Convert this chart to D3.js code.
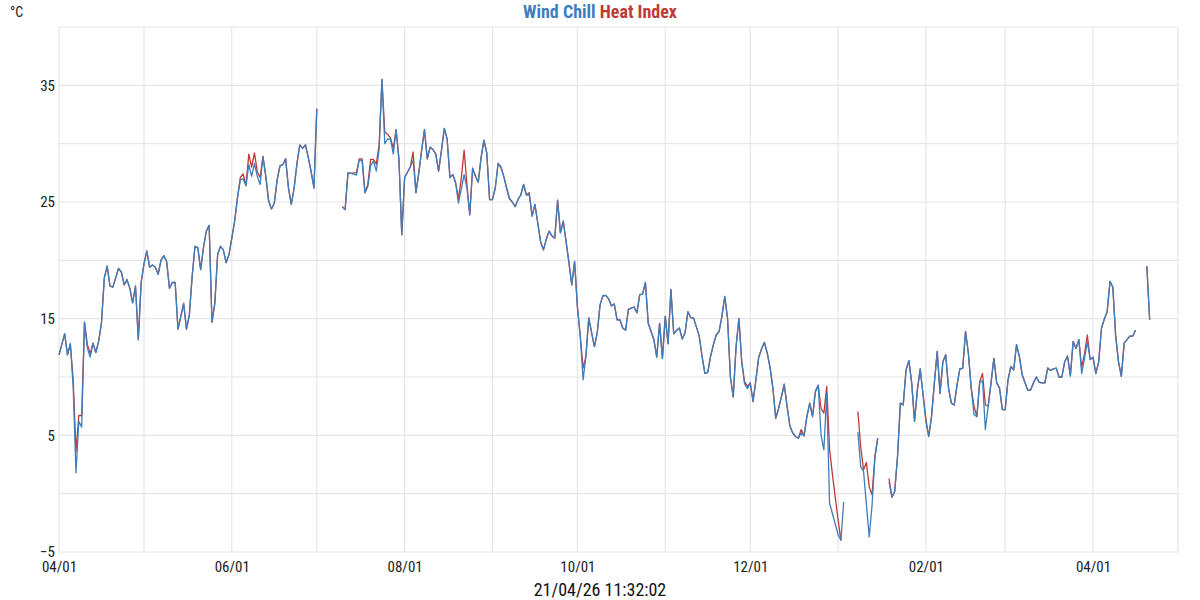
<!DOCTYPE html>
<html><head><meta charset="utf-8">
<script src="https://cdn.jsdelivr.net/npm/d3@7"></script>
<style>
html,body{margin:0;padding:0;background:#fff;}
svg{display:block;font-family:"Roboto Condensed","Liberation Sans Narrow",Roboto,sans-serif;}
</style></head>
<body>
<svg id="chart" width="1200" height="600"></svg>
<script>
// ---- data (daily, starting 2025-04-01) ----
const startDate = "2025-04-01";
const endDate = "2026-05-01";
const yTicks = [35, 25, 15, 5, -5];
const xTickLabels = ["04/01", "06/01", "08/01", "10/01", "12/01", "02/01", "04/01"];
const title = ["Wind Chill", "Heat Index"];
const unitLabel = "°C";
const timestamp = "21/04/26 11:32:02";

const windChill = [
11.9,12.8,13.7,11.9,12.85,9.2,1.8,6.2,5.7,14.7,
12.5,11.7,12.9,12.1,13.05,14.65,18.5,19.5,17.8,17.7,
18.5,19.3,19.0,17.9,18.35,17.6,16.35,17.8,13.2,18.1,
19.7,20.8,19.4,19.6,19.4,18.8,20.0,20.4,19.9,17.6,
18.1,18.1,14.1,15.2,16.3,14.1,15.3,18.6,21.2,21.1,
19.2,21.1,22.5,23.0,14.7,16.3,20.5,21.2,20.9,19.8,
20.5,21.9,23.35,25.35,26.9,27.0,26.4,28.2,27.2,28.3,
27.2,26.5,28.9,27.2,25.1,24.4,24.9,26.9,28.1,28.2,
28.7,26.2,24.8,26.2,28.3,29.9,29.6,29.9,28.8,27.6,
26.2,33.0,null,null,null,null,null,null,null,null,
24.6,24.35,27.5,27.45,27.4,27.3,28.65,28.5,25.8,26.3,
28.1,28.5,27.65,29.5,35.5,30.0,30.4,30.4,29.1,31.2,
28.65,22.2,27.1,27.55,28.0,28.6,25.8,27.5,29.4,31.2,
28.7,29.7,29.5,29.1,27.65,29.4,31.3,30.4,27.1,27.35,
26.65,24.9,26.1,27.35,26.2,23.9,27.9,27.2,26.7,28.8,
30.3,29.2,25.2,25.2,26.2,28.3,28.0,27.2,26.2,25.3,
25.0,24.6,25.2,25.6,26.5,25.6,25.6,23.8,24.8,23.2,
21.6,20.9,21.8,22.5,22.1,21.9,25.15,22.35,23.35,21.6,
19.8,17.9,19.9,16.0,13.5,9.76,11.76,15.06,13.8,12.6,
13.8,16.2,16.97,17.0,16.7,16.1,16.26,14.9,14.9,14.2,
14.0,15.8,15.9,16.0,15.5,17.06,17.1,18.1,14.6,13.9,
13.2,11.7,14.6,11.6,15.2,12.85,17.5,13.7,14.0,14.2,
13.25,13.8,15.6,15.1,15.05,14.3,13.5,11.76,10.3,10.4,
11.76,12.77,13.6,13.9,15.2,16.9,15.0,10.0,8.3,12.6,
15.0,11.3,9.4,9.0,9.5,7.9,9.76,11.7,12.4,12.97,
12.06,10.8,9.05,6.45,7.3,8.3,9.3,7.5,5.8,5.2,
4.9,4.75,5.2,4.95,6.6,7.76,6.6,8.7,9.3,5.0,
3.76,8.6,-0.8,-1.7,-2.6,-3.5,-4.0,-0.7,null,null,
null,null,5.27,2.3,1.9,-0.9,-3.7,-1.0,3.0,4.76,
null,null,null,1.0,-0.3,0.18,3.2,7.76,7.6,10.6,
11.4,9.5,6.2,8.9,10.7,8.5,6.2,4.9,6.6,9.5,
12.2,8.6,11.3,11.9,9.05,7.76,7.6,9.3,10.7,10.75,
13.9,12.06,9.05,6.76,6.6,9.5,9.7,5.5,7.5,9.5,
11.6,9.5,9.05,7.2,7.2,9.76,10.9,10.6,12.77,11.76,
10.2,9.5,8.85,8.9,9.5,10.0,9.55,9.5,9.5,10.77,
10.56,10.7,10.77,10.0,10.0,11.3,11.8,10.1,13.05,12.45,
13.2,10.3,11.6,13.0,11.5,11.7,10.3,11.3,14.2,14.97,
15.6,18.2,17.7,13.5,11.3,10.05,12.9,13.2,13.5,13.5,
14.0,null,null,null,19.5,14.9
];

const heatIndex = [
11.9,12.8,13.7,11.9,12.85,9.8,3.6,6.7,6.7,14.7,
12.8,12.0,12.9,12.1,13.05,14.65,18.5,19.5,17.8,17.7,
18.5,19.3,19.0,17.9,18.35,17.6,16.35,17.8,13.2,18.1,
19.7,20.8,19.4,19.6,19.4,18.8,20.0,20.4,19.9,17.6,
18.1,18.1,14.1,15.2,16.3,14.1,15.3,18.6,21.2,21.1,
19.2,21.1,22.5,23.0,14.7,16.3,20.5,21.2,20.9,19.8,
20.5,21.9,23.35,25.35,27.1,27.4,26.4,29.1,28.0,29.2,
27.6,27.1,28.9,27.2,25.1,24.4,24.9,26.9,28.1,28.2,
28.7,26.2,24.8,26.2,28.3,29.9,29.6,29.9,28.8,27.6,
26.2,33.0,null,null,null,null,null,null,null,null,
24.6,24.35,27.5,27.45,27.5,27.5,28.7,28.7,25.8,26.5,
28.65,28.65,28.25,29.9,35.5,31.0,30.8,30.5,29.6,31.2,
28.65,22.2,27.1,27.55,28.0,29.3,25.8,27.5,29.4,31.2,
28.7,29.7,29.5,29.1,27.65,29.4,31.3,30.4,27.1,27.35,
26.65,25.3,27.0,29.45,26.5,23.9,27.9,27.2,26.7,28.8,
30.3,29.2,25.2,25.2,26.2,28.3,28.0,27.2,26.2,25.3,
25.0,24.6,25.2,25.6,26.5,25.6,25.8,23.8,24.8,23.2,
21.6,20.9,21.8,22.5,22.1,21.9,25.15,22.35,23.35,21.6,
19.8,17.9,19.9,16.0,13.5,10.77,11.76,15.06,13.8,12.6,
13.8,16.2,16.97,17.0,16.7,16.1,16.26,14.9,14.9,14.2,
14.0,15.8,15.9,16.0,15.5,17.06,17.1,18.1,14.6,13.9,
13.2,11.7,14.6,11.6,15.2,12.85,17.5,13.7,14.0,14.2,
13.25,13.8,15.6,15.1,15.05,14.3,13.5,11.76,10.3,10.4,
11.76,12.77,13.6,13.9,15.2,16.9,15.0,10.0,8.3,12.6,
15.0,11.3,9.6,9.2,9.5,7.9,9.76,11.7,12.4,12.97,
12.06,10.8,9.05,6.45,7.3,8.3,9.4,7.5,5.8,5.2,
4.9,4.75,5.5,4.95,6.6,7.76,6.6,8.8,9.3,7.3,
6.9,9.2,3.8,1.7,-0.3,-2.2,-4.0,null,null,null,
null,null,7.04,4.0,2.04,2.67,0.6,-0.1,3.2,4.76,
null,null,null,1.3,-0.3,0.18,3.2,7.76,7.6,10.6,
11.4,9.5,6.2,8.9,10.7,8.5,6.4,4.9,6.6,9.5,
12.2,8.6,11.3,11.9,9.05,7.76,7.6,9.3,10.7,10.75,
13.9,12.06,9.05,7.5,6.6,9.6,10.3,7.6,7.5,9.5,
11.6,9.5,9.05,7.2,7.2,9.76,10.9,10.6,12.77,11.76,
10.2,9.5,8.85,8.9,9.5,10.0,9.55,9.5,9.5,10.77,
10.56,10.7,10.77,10.0,10.0,11.3,11.8,10.1,13.05,12.45,
13.2,10.8,12.0,13.6,11.5,11.7,10.3,11.3,14.2,14.97,
15.6,18.2,17.7,13.5,11.3,10.05,12.9,13.2,13.5,13.5,
14.0,null,null,null,19.5,14.9
];

const colors = { windChill: "#3d7ebd", heatIndex: "#c03a35" };

// ---- chart ----
const svg = d3.select("#chart");
const W = 1200, H = 600;
const plot = { left: 59, right: 1178, top: 27, bottom: 552 };
const FONT = "Roboto Condensed, Liberation Sans Narrow, Roboto, sans-serif";

const t0 = new Date(startDate + "T00:00:00Z");
const t1 = new Date(endDate + "T00:00:00Z");
const day = i => d3.utcDay.offset(t0, i);

const x = d3.scaleUtc().domain([t0, t1]).range([plot.left, plot.right]);
const y = d3.scaleLinear().domain([-5, 40]).range([plot.bottom, plot.top]);

const grid = svg.append("g").attr("class", "grid");
grid.selectAll("line.h").data(d3.range(-5, 41, 5)).join("line")
  .attr("x1", plot.left).attr("x2", plot.right)
  .attr("y1", d => y(d)).attr("y2", d => y(d))
  .attr("stroke", "#e6e6e6").attr("stroke-width", 1.2);
grid.selectAll("line.v").data(d3.utcMonth.range(t0, d3.utcDay.offset(t1, 1))).join("line")
  .attr("x1", d => x(d)).attr("x2", d => x(d))
  .attr("y1", plot.top).attr("y2", plot.bottom)
  .attr("stroke", "#e6e6e6").attr("stroke-width", 1.2);

// axes
const yAxis = svg.append("g").attr("transform", `translate(${plot.left - 4},0)`)
  .call(d3.axisLeft(y).tickValues(yTicks).tickSize(0).tickPadding(0).tickFormat(d3.format("d")));
yAxis.select(".domain").remove();
yAxis.selectAll("text").attr("font-size", 15).attr("fill", "#222").attr("font-family", FONT);

const xTickDates = d3.utcMonth.range(t0, t1, 2);
const xAxis = svg.append("g").attr("transform", `translate(0,${plot.bottom + 9})`)
  .call(d3.axisBottom(x).tickValues(xTickDates).tickSize(0).tickPadding(0)
    .tickFormat((d, i) => xTickLabels[i]));
xAxis.select(".domain").remove();
xAxis.selectAll("text").attr("font-size", 15).attr("fill", "#222").attr("font-family", FONT);

// lines
function series(vals) { return vals.map((v, i) => ({ date: day(i), v })); }
const line = d3.line().defined(d => d.v != null).x(d => x(d.date)).y(d => y(d.v));

svg.append("path").datum(series(heatIndex))
  .attr("fill", "none").attr("stroke", colors.heatIndex).attr("stroke-width", 1.3)
  .attr("stroke-linejoin", "round").attr("d", line);
svg.append("path").datum(series(windChill))
  .attr("fill", "none").attr("stroke", colors.windChill).attr("stroke-width", 1.3)
  .attr("stroke-linejoin", "round").attr("d", line);

// title
const tt = svg.append("text").attr("x", W / 2).attr("y", 18).attr("text-anchor", "middle")
  .attr("font-size", 18).attr("font-weight", "bold").attr("font-family", FONT);
tt.append("tspan").attr("fill", colors.windChill).text(title[0]);
tt.append("tspan").attr("fill", colors.heatIndex).text(" " + title[1]);

// unit
svg.append("text").attr("x", 10).attr("y", 17).attr("font-size", 14).attr("fill", "#222")
  .attr("font-family", FONT).text(unitLabel);

// timestamp
svg.append("text").attr("x", W / 2).attr("y", 596).attr("text-anchor", "middle")
  .attr("font-size", 18).attr("fill", "#111").attr("font-family", FONT).text(timestamp);
</script>
</body></html>
